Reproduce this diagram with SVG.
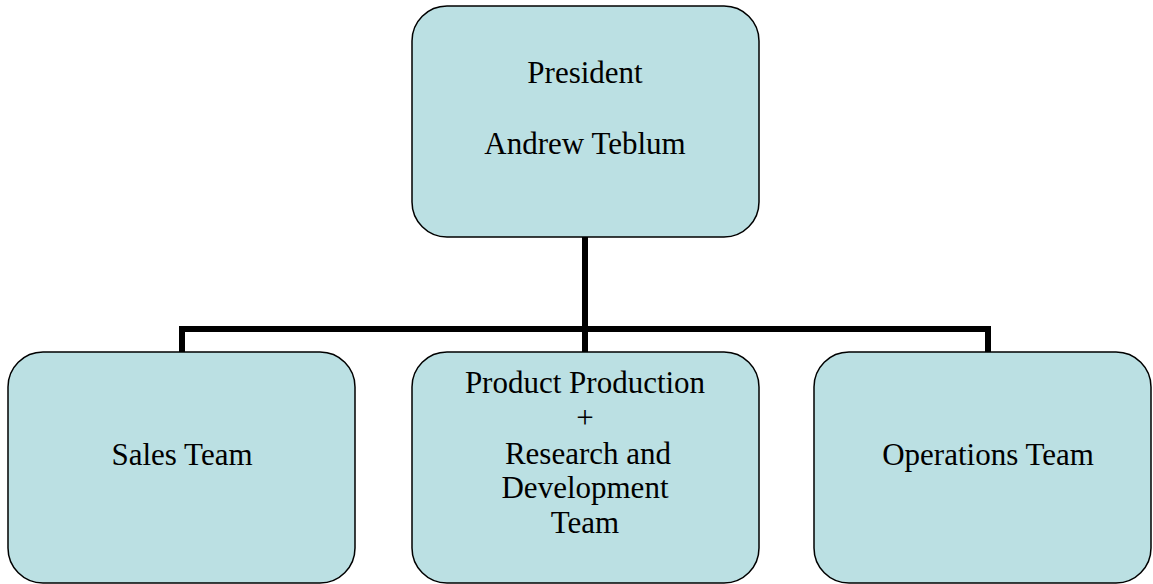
<svg xmlns="http://www.w3.org/2000/svg" width="1153" height="584" viewBox="0 0 1153 584">
<style>
.box{fill:#bbe0e3;stroke:#000;stroke-width:1.5}
.conn{fill:none;stroke:#000;stroke-width:6}
text{font-family:"Liberation Serif","Times New Roman",serif;font-size:31px;fill:#000;text-anchor:middle}
</style>
<rect width="1153" height="584" fill="#fff"/>
<g id="connectors">
<line class="conn" x1="585" y1="237" x2="585" y2="329"/>
<polyline class="conn" points="182,352 182,329 988,329 988,352"/>
<line class="conn" x1="585" y1="329" x2="585" y2="352"/>
</g>
<g id="president">
<rect class="box" x="412" y="6" width="347" height="231" rx="35" ry="35"/>
<text x="585" y="83">President</text>
<text x="585" y="154">Andrew Teblum</text>
</g>
<g id="sales">
<rect class="box" x="8" y="352" width="347" height="231" rx="35" ry="35"/>
<text x="182" y="465">Sales Team</text>
</g>
<g id="production">
<rect class="box" x="412" y="352" width="347" height="231" rx="35" ry="35"/>
<text x="585" y="393">Product Production</text>
<text x="585" y="428">+</text>
<text x="588" y="464">Research and</text>
<text x="585" y="498">Development</text>
<text x="585" y="533">Team</text>
</g>
<g id="operations">
<rect class="box" x="814" y="352" width="337" height="231" rx="35" ry="35"/>
<text x="988" y="465">Operations Team</text>
</g>
</svg>
